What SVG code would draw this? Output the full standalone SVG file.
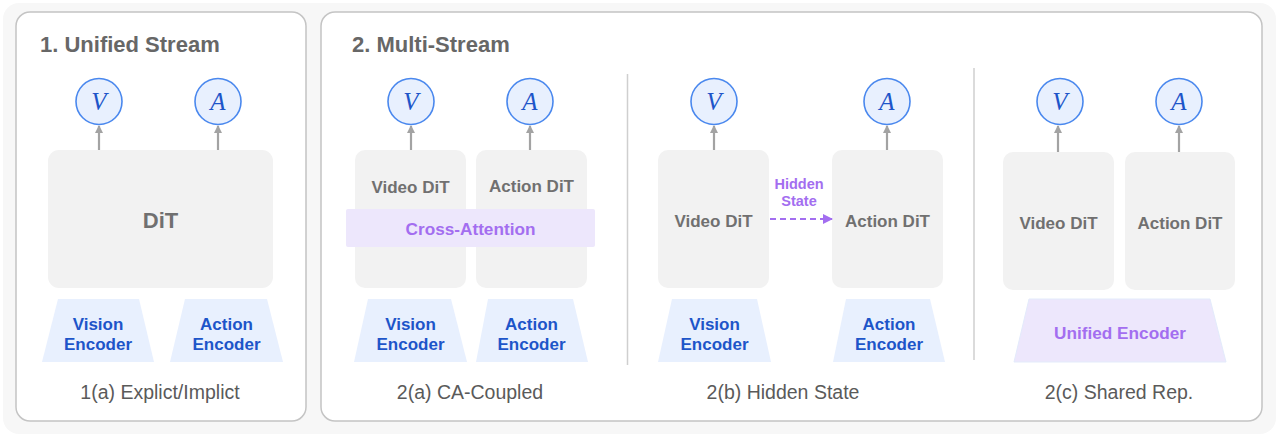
<svg xmlns="http://www.w3.org/2000/svg" width="1280" height="437" viewBox="0 0 1280 437">
<defs>
<marker id="ag" markerWidth="8" markerHeight="8" refX="7" refY="4" orient="auto" markerUnits="userSpaceOnUse"><path d="M0,0 L8,4 L0,8 Z" fill="#a3a3a3"/></marker>
<marker id="ap" markerWidth="10" markerHeight="10" refX="9" refY="5" orient="auto" markerUnits="userSpaceOnUse"><path d="M0,0 L10,5 L0,10 Z" fill="#a36ef0"/></marker>
<style>
.panel{fill:#ffffff;stroke:#c4c4c4;stroke-width:1.5}
.title{font-family:"Liberation Sans",Arial,sans-serif;font-weight:bold;font-size:22px;fill:#676767}
.circ{fill:#e8f0fe;stroke:#4a88ee;stroke-width:1.6}
.var{font-family:"Liberation Serif","Times New Roman",serif;font-style:italic;font-size:25px;fill:#1d55c9;text-anchor:middle}
.box{fill:#f2f2f2}
.boxt{font-family:"Liberation Sans",Arial,sans-serif;font-weight:bold;font-size:17px;fill:#707070;text-anchor:middle}
.enc{fill:#e8f0fe}
.enct{font-family:"Liberation Sans",Arial,sans-serif;font-weight:bold;font-size:17px;fill:#1d55c9;text-anchor:middle}
.pur{fill:#ede7fc}
.purt{font-family:"Liberation Sans",Arial,sans-serif;font-weight:bold;font-size:17.2px;fill:#a36ef0;text-anchor:middle}
.cap{font-family:"Liberation Sans",Arial,sans-serif;font-size:19.5px;fill:#5a5a5a;text-anchor:middle}
.up{stroke:#a3a3a3;stroke-width:2.2;fill:none}
.div{stroke:#cfcfcf;stroke-width:1.5}
</style>
</defs>
<rect x="3" y="3" width="1273" height="431" rx="16" fill="#f7f7f7"/>
<g id="panel1">
<rect class="panel" x="16" y="12" width="290" height="409" rx="14"/>
<text class="title" x="40" y="52">1. Unified Stream</text>
</g>
<g id="panel2">
<rect class="panel" x="321" y="12" width="941" height="409" rx="14"/>
<text class="title" x="352" y="52">2. Multi-Stream</text>
<line class="div" x1="627.5" y1="74" x2="627.5" y2="365"/>
<line class="div" x1="974" y1="68" x2="974" y2="360"/>
</g>
<!-- 1(a) -->
<g id="v1"><circle class="circ" cx="99" cy="101.5" r="23"/><text class="var" x="99" y="110">V</text></g>
<g id="a1"><circle class="circ" cx="218" cy="101.5" r="23"/><text class="var" x="218" y="110">A</text></g>
<g id="dit1"><rect class="box" x="48" y="150" width="225" height="138" rx="11"/><text class="boxt" style="font-size:22px" x="160.5" y="228">DiT</text></g>
<g id="venc1"><polygon class="enc" points="58,299 139,299 154,362 42,362"/><text class="enct" x="98" y="330">Vision</text><text class="enct" x="98" y="350">Encoder</text></g>
<g id="aenc1"><polygon class="enc" points="185,299 267,299 283,362 170,362"/><text class="enct" x="226.5" y="330">Action</text><text class="enct" x="226.5" y="350">Encoder</text></g>
<text class="cap" x="160" y="399">1(a) Explict/Implict</text>
<!-- 2(a) -->
<g id="v2a"><circle class="circ" cx="411" cy="101.5" r="23"/><text class="var" x="411" y="110">V</text></g>
<g id="a2a"><circle class="circ" cx="530" cy="101.5" r="23"/><text class="var" x="530" y="110">A</text></g>
<g id="vdit2a"><rect class="box" x="355" y="150" width="111" height="138" rx="10"/><text class="boxt" x="410.5" y="193">Video DiT</text></g>
<g id="adit2a"><rect class="box" x="476" y="150" width="111" height="138" rx="10"/><text class="boxt" x="531.5" y="192">Action DiT</text></g>
<g id="ca2a"><rect class="pur" x="346" y="209" width="249" height="38" rx="2"/><text class="purt" x="470.5" y="235">Cross-Attention</text></g>
<g id="venc2a"><polygon class="enc" points="368,299 451,299 467,362 354,362"/><text class="enct" x="410.5" y="330">Vision</text><text class="enct" x="410.5" y="350">Encoder</text></g>
<g id="aenc2a"><polygon class="enc" points="488,299 573,299 588,362 476,362"/><text class="enct" x="531.5" y="330">Action</text><text class="enct" x="531.5" y="350">Encoder</text></g>
<text class="cap" x="470" y="399">2(a) CA-Coupled</text>
<!-- 2(b) -->
<g id="v2b"><circle class="circ" cx="714" cy="101.5" r="23"/><text class="var" x="714" y="110">V</text></g>
<g id="a2b"><circle class="circ" cx="887" cy="101.5" r="23"/><text class="var" x="887" y="110">A</text></g>
<g id="vdit2b"><rect class="box" x="658" y="150" width="111" height="138" rx="10"/><text class="boxt" x="713.5" y="227">Video DiT</text></g>
<g id="adit2b"><rect class="box" x="832" y="150" width="111" height="138" rx="10"/><text class="boxt" x="887.5" y="227">Action DiT</text></g>
<g id="venc2b"><polygon class="enc" points="672,299 757,299 771,362 658,362"/><text class="enct" x="714.5" y="330">Vision</text><text class="enct" x="714.5" y="350">Encoder</text></g>
<g id="aenc2b"><polygon class="enc" points="846,299 930,299 945,362 833,362"/><text class="enct" x="889" y="330">Action</text><text class="enct" x="889" y="350">Encoder</text></g>
<text class="cap" x="783" y="399">2(b) Hidden State</text>
<!-- 2(c) -->
<g id="v2c"><circle class="circ" cx="1060" cy="101.5" r="23"/><text class="var" x="1060" y="110">V</text></g>
<g id="a2c"><circle class="circ" cx="1179" cy="101.5" r="23"/><text class="var" x="1179" y="110">A</text></g>
<g id="vdit2c"><rect class="box" x="1003" y="152" width="111" height="138" rx="10"/><text class="boxt" x="1058.5" y="229">Video DiT</text></g>
<g id="adit2c"><rect class="box" x="1125" y="152" width="110" height="138" rx="10"/><text class="boxt" x="1180" y="229">Action DiT</text></g>
<g id="uenc2c"><polygon class="pur" points="1029,299 1210,299 1226,362 1014,362" stroke="#e3ebfb" stroke-width="1"/><text class="purt" x="1120" y="339">Unified Encoder</text></g>
<text class="cap" x="1119" y="399">2(c) Shared Rep.</text>
<g id="connectors">
<line class="up" x1="99" y1="150" x2="99" y2="126" marker-end="url(#ag)"/>
<line class="up" x1="218" y1="150" x2="218" y2="126" marker-end="url(#ag)"/>
<line class="up" x1="411" y1="150" x2="411" y2="126" marker-end="url(#ag)"/>
<line class="up" x1="530" y1="150" x2="530" y2="126" marker-end="url(#ag)"/>
<line class="up" x1="714" y1="150" x2="714" y2="126" marker-end="url(#ag)"/>
<line class="up" x1="887" y1="150" x2="887" y2="126" marker-end="url(#ag)"/>
<line class="up" x1="1058" y1="152" x2="1058" y2="126" marker-end="url(#ag)"/>
<line class="up" x1="1179" y1="152" x2="1179" y2="126" marker-end="url(#ag)"/>
<line x1="770" y1="219" x2="832" y2="219" stroke="#a36ef0" stroke-width="2.2" stroke-dasharray="6,4" marker-end="url(#ap)"/>
<text class="purt" style="font-size:14.5px" x="799" y="189">Hidden</text>
<text class="purt" style="font-size:14.5px" x="799" y="206">State</text>
</g>
</svg>
